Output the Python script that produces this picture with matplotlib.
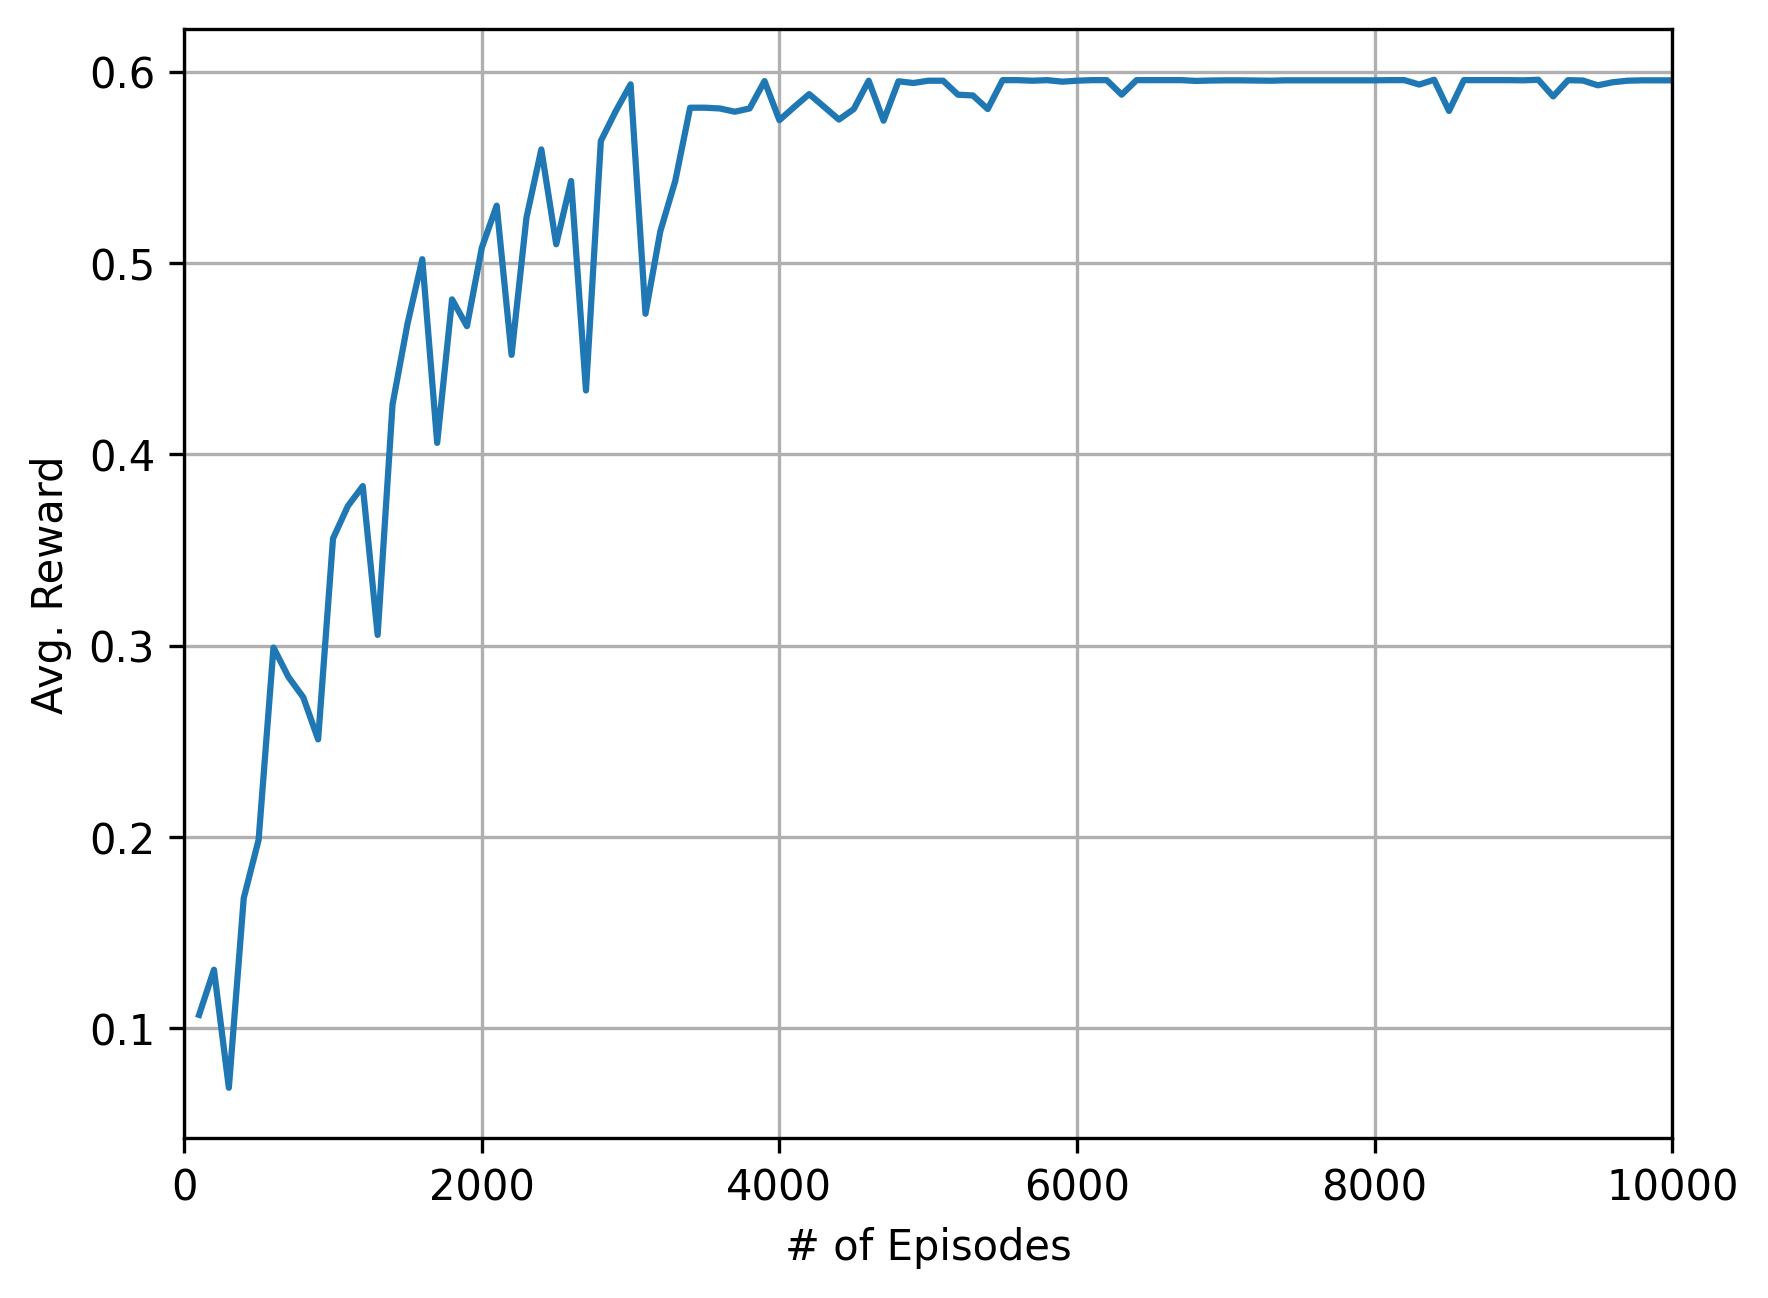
import numpy as np
import matplotlib
matplotlib.use("Agg")
import matplotlib.pyplot as plt

# ----------------------------
# Data
# ----------------------------
episodes = list(range(100, 10001, 100))

avg_reward = [
    0.107, 0.1306, 0.0689, 0.168, 0.1985, 0.299, 0.2837, 0.273, 0.251, 0.356,      # 100-1000
    0.373, 0.3834, 0.3056, 0.426, 0.468, 0.502, 0.406, 0.481, 0.467, 0.508,        # 1100-2000
    0.530, 0.452, 0.5237, 0.5594, 0.5098, 0.5429, 0.4334, 0.5638, 0.5794, 0.5934,  # 2100-3000
    0.4735, 0.5167, 0.5429, 0.5812, 0.5812, 0.5808, 0.5791, 0.5808, 0.5951, 0.5747, # 3100-4000
    0.5816, 0.5883, 0.5817, 0.575, 0.5805, 0.5953, 0.5744, 0.595, 0.5941, 0.5953,  # 4100-5000
    0.5953, 0.588, 0.5876, 0.5805, 0.5956, 0.5956, 0.5953, 0.5956, 0.5948, 0.5953, # 5100-6000
    0.5956, 0.5956, 0.588, 0.5956, 0.5956, 0.5956, 0.5956, 0.5952, 0.5954, 0.5955, # 6100-7000
    0.5955, 0.5954, 0.5953, 0.5955, 0.5955, 0.5955, 0.5955, 0.5955, 0.5955, 0.5955, # 7100-8000
    0.5956, 0.5956, 0.5933, 0.5958, 0.5795, 0.5956, 0.5956, 0.5956, 0.5956, 0.5955, # 8100-9000
    0.5958, 0.5871, 0.5956, 0.5954, 0.5929, 0.5945, 0.5953, 0.5955, 0.5955, 0.5955, # 9100-10000
]

# ----------------------------
# Plot
# ----------------------------
fig, ax = plt.subplots(figsize=(6.4, 4.8))
ax.plot(episodes, avg_reward)
ax.set_xlim(0, 10000)
ax.set_xlabel("# of Episodes")
ax.set_ylabel("Avg. Reward")
ax.grid(True)

fig.savefig("out.png", dpi=300, bbox_inches="tight")
